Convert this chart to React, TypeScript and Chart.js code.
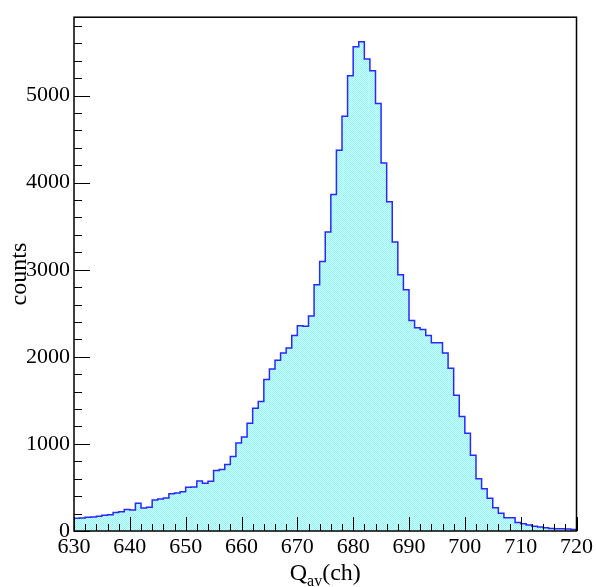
import React, { useEffect, useRef } from 'react';
import { Chart, registerables } from 'chart.js';

Chart.register(...registerables);

// Histogram: bins of width 1 from 630 to 720 (left edges)
const binStart = 630;
const binWidth = 1;
const binCounts = [
  145, 148, 158, 162, 170, 182, 188, 212, 222, 248,
  240, 318, 264, 272, 355, 368, 378, 428, 436, 452,
  502, 505, 575, 547, 572, 695, 707, 765, 855, 1010,
  1078, 1238, 1410, 1486, 1741, 1859, 1962, 2045, 2100, 2246,
  2356, 2350, 2470, 2828, 3095, 3434, 3864, 4371, 4763, 5228,
  5560, 5617, 5419, 5286, 4908, 4226, 3781, 3320, 2943, 2771,
  2417, 2333, 2314, 2246, 2161, 2161, 2043, 1868, 1560, 1316,
  1122, 870, 600, 486, 375, 266, 204, 152, 152, 98,
  84, 68, 55, 45, 38, 28, 26, 25, 22, 16,
];

const xMin = 630;
const xMax = 720;
const yMin = 0;
const yMax = 5900;
const xTickLabels = [630, 640, 650, 660, 670, 680, 690, 700, 710, 720];
const yTickLabels = [0, 1000, 2000, 3000, 4000, 5000];
const xMinorStep = 2;
const yMinorStep = 200;

const FONT = '"Liberation Serif", "DejaVu Serif", serif';

const frameTicksPlugin = {
  id: 'frameTicks',
  afterDraw(chart: any) {
    const { ctx, chartArea: a, scales } = chart;
    const x = scales.x;
    const y = scales.y;
    ctx.save();
    ctx.strokeStyle = '#000';
    ctx.lineWidth = 1;
    // x ticks (inside)
    for (let v = xMin; v <= xMax + 1e-9; v += xMinorStep) {
      const px = Math.round(x.getPixelForValue(v)) + 0.5;
      const major = Math.abs((v - xMin) % 10) < 1e-9;
      const len = major ? 14 : 7;
      ctx.beginPath();
      ctx.moveTo(px, a.bottom);
      ctx.lineTo(px, a.bottom - len);
      ctx.stroke();
    }
    // y ticks (inside)
    for (let v = yMin; v <= yMax + 1e-9; v += yMinorStep) {
      const py = Math.round(y.getPixelForValue(v)) + 0.5;
      const major = Math.abs(v % 1000) < 1e-9;
      const len = major ? 16 : 8;
      ctx.beginPath();
      ctx.moveTo(a.left, py);
      ctx.lineTo(a.left + len, py);
      ctx.stroke();
    }
    // frame
    ctx.lineWidth = 1.5;
    ctx.strokeRect(a.left, a.top, a.right - a.left, a.bottom - a.top);
    // x title with subscript
    const mainFont = `24px ${FONT}`;
    const subFont = `16px ${FONT}`;
    ctx.fillStyle = '#000';
    ctx.textBaseline = 'alphabetic';
    ctx.textAlign = 'left';
    ctx.font = mainFont;
    const wQ = ctx.measureText('Q').width;
    const wCh = ctx.measureText('(ch)').width;
    ctx.font = subFont;
    const wAv = ctx.measureText('av').width;
    const total = wQ + wAv + wCh;
    const cx = (a.left + a.right) / 2;
    let sx = cx - total / 2;
    const by = a.bottom + 49;
    ctx.font = mainFont;
    ctx.fillText('Q', sx, by);
    sx += wQ;
    ctx.font = subFont;
    ctx.fillText('av', sx, by + 6);
    sx += wAv;
    ctx.font = mainFont;
    ctx.fillText('(ch)', sx, by);
    ctx.restore();
  },
};

function makePattern(ctx: CanvasRenderingContext2D): CanvasPattern | string {
  const pc = document.createElement('canvas');
  pc.width = 2;
  pc.height = 2;
  const g = pc.getContext('2d');
  if (!g) return 'rgb(175,250,250)';
  g.fillStyle = 'rgb(215,255,255)';
  g.fillRect(0, 0, 2, 2);
  g.fillStyle = 'rgb(140,245,245)';
  g.fillRect(0, 0, 1, 1);
  g.fillRect(1, 1, 1, 1);
  return ctx.createPattern(pc, 'repeat') || 'rgb(175,250,250)';
}

export default function App() {
  const canvasRef = useRef<HTMLCanvasElement | null>(null);

  useEffect(() => {
    const canvas = canvasRef.current;
    if (!canvas) return;
    const ctx = canvas.getContext('2d');
    if (!ctx) return;
    const pattern = makePattern(ctx);

    const points: { x: number; y: number }[] = [{ x: binStart, y: 0 }];
    binCounts.forEach((c, i) => points.push({ x: binStart + i * binWidth, y: c }));
    const lastEdge = binStart + binCounts.length * binWidth;
    points.push({ x: lastEdge, y: binCounts[binCounts.length - 1] });
    points.push({ x: lastEdge, y: 0 });

    const chart = new Chart(ctx, {
      type: 'line',
      data: {
        datasets: [
          {
            data: points,
            stepped: true,
            fill: 'origin',
            backgroundColor: pattern as any,
            borderColor: 'rgb(40,40,255)',
            borderWidth: 1.5,
            pointRadius: 0,
            tension: 0,
          },
        ],
      },
      options: {
        animation: false,
        responsive: false,
        maintainAspectRatio: false,
        layout: { padding: { left: 0, right: 18, top: 13, bottom: 0 } },
        plugins: {
          legend: { display: false },
          tooltip: { enabled: false },
        },
        scales: {
          x: {
            type: 'linear',
            min: xMin,
            max: xMax,
            grid: { display: false, drawTicks: false },
            border: { display: false },
            ticks: {
              autoSkip: false,
              maxRotation: 0,
              padding: 3,
              color: '#000',
              font: { family: FONT, size: 22 },
              callback: (v: any) => String(v),
            },
            afterBuildTicks: (s: any) => {
              s.ticks = xTickLabels.map((v) => ({ value: v }));
            },
            afterFit: (s: any) => {
              s.height = 56;
            },
          },
          y: {
            type: 'linear',
            min: yMin,
            max: yMax,
            grid: { display: false, drawTicks: false },
            border: { display: false },
            ticks: {
              padding: 4,
              color: '#000',
              font: { family: FONT, size: 22 },
              callback: (v: any) => String(v),
            },
            afterBuildTicks: (s: any) => {
              s.ticks = yTickLabels.map((v) => ({ value: v }));
            },
            afterFit: (s: any) => {
              s.width = 74;
            },
            title: {
              display: true,
              text: 'counts',
              color: '#000',
              font: { family: FONT, size: 24 },
              padding: { top: 5, bottom: 0 },
            },
          },
        },
      },
      plugins: [frameTicksPlugin],
    });

    return () => {
      chart.destroy();
    };
  }, []);

  return (
    <div style={{ position: 'fixed', left: 0, top: 0, width: 596, height: 587, background: '#fff' }}>
      <canvas ref={canvasRef} width={596} height={587} style={{ width: 596, height: 587, display: 'block' }} />
    </div>
  );
}
